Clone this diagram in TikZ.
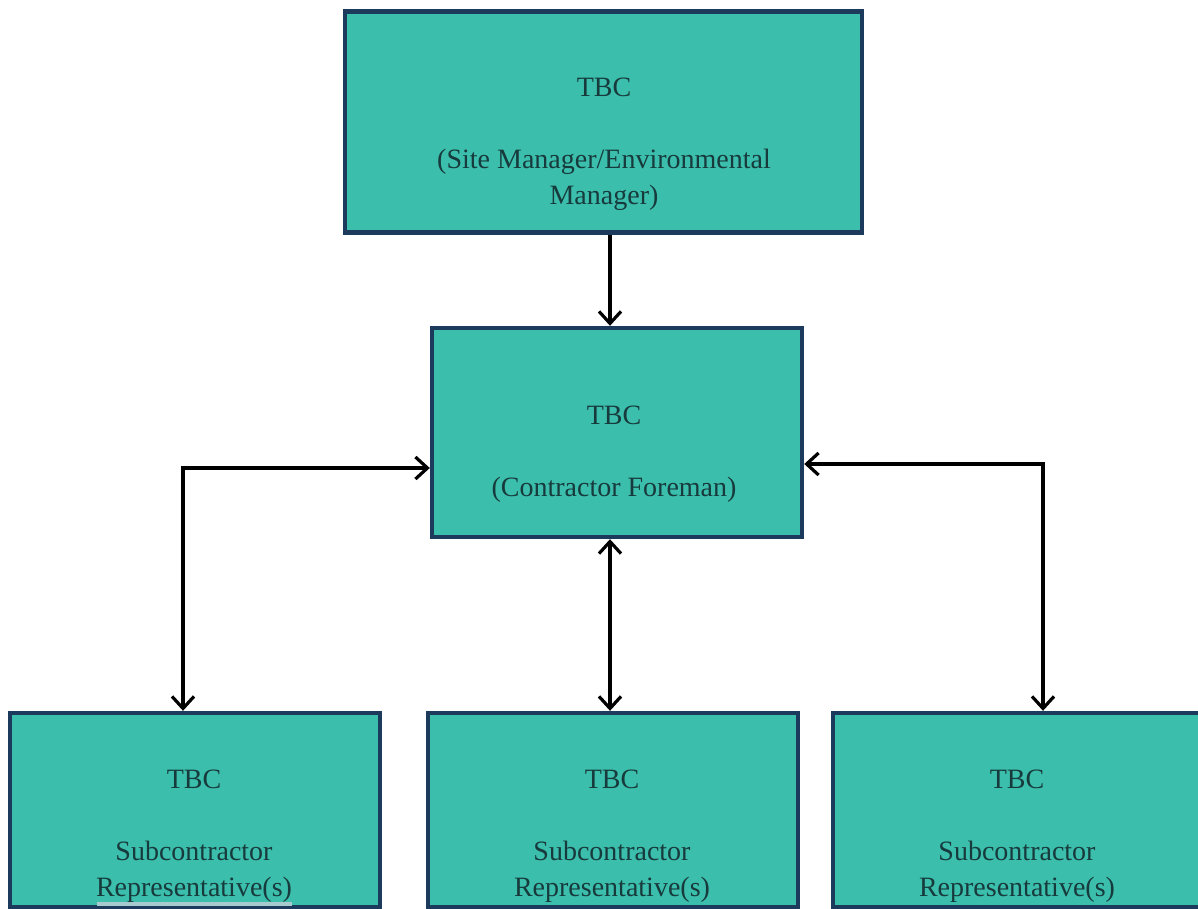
\documentclass[tikz,border=0pt]{standalone}
\usepackage{fontspec}
\setmainfont{Liberation Serif}
\usetikzlibrary{arrows.meta}
\definecolor{boxfill}{HTML}{3CBEAC}
\definecolor{boxline}{HTML}{1B3A5C}
\definecolor{txt}{HTML}{173A3C}
\definecolor{strip}{HTML}{A6CACD}
\tikzset{
  orgbox/.style={draw=boxline, fill=boxfill, line width=2.2pt, inner sep=0pt},
  lbl/.style={text=txt, font=\fontsize{14}{18}\selectfont, align=center, inner sep=0pt, anchor=base},
  conn/.style={line width=1.8pt, black, {Straight Barb[length=6pt,width=11pt,line width=1.6pt]}-{Straight Barb[length=6pt,width=11pt,line width=1.6pt]}},
  conn1/.style={line width=1.8pt, black, -{Straight Barb[length=6pt,width=11pt,line width=1.6pt]}}
}
\begin{document}
\begin{tikzpicture}[x=0.5pt,y=-0.5pt]
\useasboundingbox (0,0) rectangle (1198,909);
\clip (0,0) rectangle (1198,909);
\fill[white] (0,0) rectangle (1198,909);
% boxes
\node[orgbox, minimum width=517*0.5pt, minimum height=221*0.5pt] (top) at (603.5,122) {};
\node[orgbox, minimum width=370*0.5pt, minimum height=209*0.5pt] (mid) at (617,432.5) {};
\node[orgbox, minimum width=370*0.5pt, minimum height=194*0.5pt] (bl) at (195,810) {};
\node[orgbox, minimum width=370*0.5pt, minimum height=194*0.5pt] (bm) at (613,810) {};
\node[orgbox, minimum width=372*0.5pt, minimum height=194*0.5pt] (br) at (1019,810) {};
% faint strip
\fill[strip] (97,902) rectangle (292,906);
% texts (base = baseline of the last line)
\node[lbl] (topt) at (604,205) {TBC\\[18pt](Site Manager/Environmental\\Manager)};
\node[lbl] (midt) at (614,496) {TBC\\[18pt](Contractor Foreman)};
\node[lbl] (blt) at (194,896) {TBC\\[18pt]Subcontractor\\Representative(s)};
\node[lbl] (bmt) at (612,896) {TBC\\[18pt]Subcontractor\\Representative(s)};
\node[lbl] (brt) at (1017,896) {TBC\\[18pt]Subcontractor\\Representative(s)};
% connectors
\coordinate (lc) at (183,468);
\coordinate (rc) at (1043,464);
\coordinate (mc) at (610,0);
\draw[conn1] (top.south -| mc) -- (mid.north -| mc);
\draw[conn] (mid.south -| mc) -- (bm.north -| mc);
\draw[conn] (mid.west |- lc) -- (lc) -- (bl.north -| lc);
\draw[conn] (mid.east |- rc) -- (rc) -- (br.north -| rc);
\end{tikzpicture}
\end{document}
